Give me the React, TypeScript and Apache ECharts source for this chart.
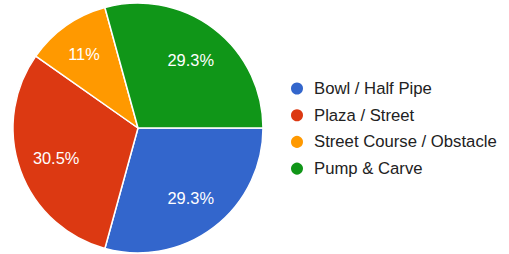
import React, { useEffect, useRef } from "react";
import * as echarts from "echarts";

const categories = ["Bowl / Half Pipe", "Plaza / Street", "Street Course / Obstacle", "Pump & Carve"];
const counts = [24, 25, 9, 24];
const colors = ["#3366cc", "#dc3912", "#ff9900", "#109618"];

export default function App() {
  const ref = useRef<HTMLDivElement>(null);
  useEffect(() => {
    if (!ref.current) return;
    const chart = echarts.init(ref.current, undefined, { renderer: "svg" });
    const total = counts.reduce((a, b) => a + b, 0);
    const data = categories.map((name, i) => ({ name, value: counts[i], itemStyle: { color: colors[i] } }));
    const fmt = (v: number) => String(parseFloat(((v / total) * 100).toPrecision(3))) + "%";
    const small = (v: number) => v / total < 0.15;
    chart.setOption({
      animation: false,
      legend: {
        orient: "vertical",
        left: 289,
        top: 80,
        padding: 0,
        icon: "circle",
        itemWidth: 14,
        itemHeight: 14,
        itemGap: 9.7,
        textStyle: {
          fontFamily: "Arial, 'Liberation Sans'",
          fontSize: 16.7,
          color: "#222",
          lineHeight: 17,
          padding: [0, 0, 0, 5],
        },
        data: categories,
      },
      series: [
        {
          type: "pie",
          center: [138, 128],
          radius: [0, 125],
          startAngle: 0,
          clockwise: true,
          label: { show: false },
          labelLine: { show: false },
          itemStyle: { borderColor: "#fff", borderWidth: 1.5 },
          emphasis: { disabled: true },
          data,
        },
        {
          type: "pie",
          center: [138, 129],
          radius: [60, 108],
          startAngle: 0,
          clockwise: true,
          silent: true,
          legendHoverLink: false,
          label: {
            show: true,
            position: "inside",
            color: "#fff",
            fontFamily: "Arial, 'Liberation Sans'",
            fontSize: 16.4,
            formatter: (p: any) => fmt(p.value),
          },
          labelLine: { show: false },
          itemStyle: { color: "rgba(0,0,0,0)" },
          emphasis: { disabled: true },
          data: categories.map((name, i) => ({
            name: name + " ",
            value: counts[i],
            label: small(counts[i]) ? { offset: [-4, -4] } : undefined,
          })),
        },
      ],
    });
    return () => chart.dispose();
  }, []);
  return <div ref={ref} style={{ width: 509, height: 254, position: "absolute", left: 0, top: 0 }} />;
}
